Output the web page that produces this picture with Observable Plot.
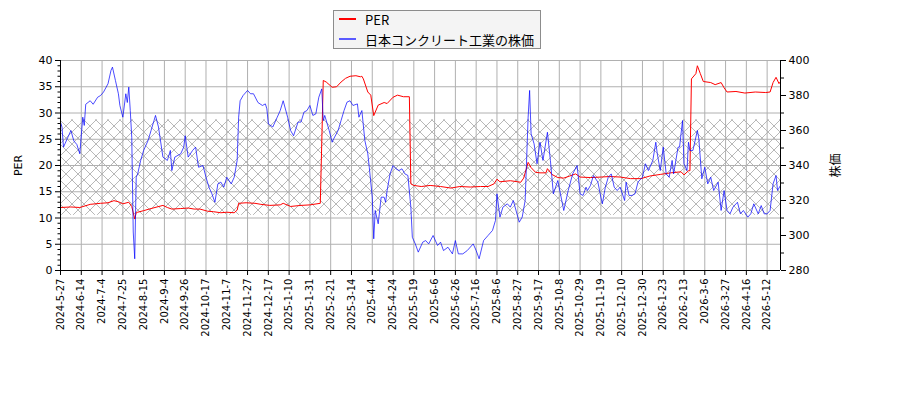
<!DOCTYPE html>
<html><head><meta charset="utf-8">
<script src="https://cdn.jsdelivr.net/npm/d3@7"></script>
<script src="https://cdn.jsdelivr.net/npm/@observablehq/plot@0.6"></script>
<style>
body{margin:0;background:#fff;}
#wrap{position:relative;width:900px;height:400px;}
#legend{position:absolute;left:333px;top:10px;width:206px;height:37px;background:#f4f4f4;border:1px solid #8c8c8c;font-family:"Noto Sans CJK JP","DejaVu Sans",sans-serif;font-size:13px;color:#000;}
.item{position:absolute;left:5px;height:16px;display:flex;align-items:center;white-space:nowrap;}
.swatch{display:inline-block;width:17px;height:1.6px;margin-right:9px;}
</style></head><body>
<div id="wrap"><div id="chart"></div>
<div id="legend">
<div class="item" style="top:0px"><span class="swatch" style="background:#ff0000"></span><span>PER</span></div>
<div class="item" style="top:20px"><span class="swatch" style="background:#5a5aff"></span><span>日本コンクリート工業の株価</span></div>
</div></div>
<script>
const tickLabels = ["2024-5-27","2024-6-14","2024-7-4","2024-7-25","2024-8-15","2024-9-4","2024-9-26","2024-10-17","2024-11-7","2024-11-27","2024-12-17","2025-1-10","2025-1-31","2025-2-21","2025-3-14","2025-4-4","2025-4-24","2025-5-19","2025-6-6","2025-6-26","2025-7-16","2025-8-6","2025-8-27","2025-9-17","2025-10-8","2025-10-29","2025-11-19","2025-12-10","2025-12-30","2026-1-23","2026-2-13","2026-3-6","2026-3-27","2026-4-16","2026-5-12"];
const tickDays = [0,14,28,42,56,70,84,98,112,126,140,154,168,182,196,210,224,238,252,266,280,294,308,322,336,350,364,378,392,406,420,434,448,462,476];
const dayRange = [0, 485];

const leftTicks = [0,5,10,15,20,25,30,35,40];
const leftMinor = [1,2,3,4,6,7,8,9,11,12,13,14,16,17,18,19,21,22,23,24,26,27,28,29,31,32,33,34,36,37,38,39];
const priceTicks = [280,300,320,340,360,380,400];
const priceMinor = [290,310,330,350,370,390];

const bandLow = 10.5, bandHigh = 28.7;

const perDays = [0,7,13,20,27,32,36,39,42,46,48,50,51,52,56,61,65,69,72,75,81,86,90,94,99,103,108,112,117,119,120,125,131,135,141,148,150,155,162,168,175,177,179,183,186,189,192,195,199,202,203,204,207,209,211,214,218,220,224,227,231,235,236,238,243,249,256,263,269,276,283,288,292,294,296,303,308,310,312,315,317,320,323,327,328,331,335,339,343,347,350,357,364,370,377,384,391,397,404,411,418,420,423,424,425,428,429,431,433,438,441,445,447,449,455,461,468,475,478,480,482,484,485];
const perValues = [12.0,12.1,12.0,12.6,12.8,12.9,13.3,13.1,12.7,13.0,12.2,9.8,11.0,11.1,11.4,11.8,12.1,12.4,12.0,11.7,11.8,11.9,11.7,11.7,11.3,11.2,11.0,11.1,11.0,11.5,12.8,12.9,12.8,12.6,12.4,12.5,12.8,12.2,12.4,12.5,12.8,36.2,35.9,34.9,35.0,35.9,36.6,37.0,37.1,36.9,37.0,36.5,34.0,33.4,29.5,31.5,32.0,31.8,33.0,33.4,33.1,33.1,16.5,16.2,16.0,16.2,16.0,15.7,16.0,15.9,16.0,16.0,16.5,17.4,16.9,17.1,16.9,16.8,17.6,20.6,19.6,18.7,18.6,18.6,19.4,18.3,17.7,17.6,18.0,18.4,17.8,17.7,17.8,17.9,17.8,17.5,17.5,18.0,18.3,18.6,18.8,18.2,19.0,19.0,36.5,37.5,39.0,37.5,36.0,35.8,35.4,35.8,34.8,34.0,34.1,33.8,34.0,33.9,34.0,35.8,36.8,35.6,36.0];

const priceDays = [0,1,2,3,7,9,11,13,15,16,17,20,22,25,27,29,32,34,35,37,39,40,42,44,45,46,47,48,49,50,51,52,54,56,59,61,63,64,66,69,72,74,75,77,81,83,84,86,89,91,93,96,98,100,102,104,106,108,110,112,115,117,119,120,121,123,126,128,130,133,136,138,139,140,143,146,148,150,153,155,157,160,162,164,166,168,170,172,174,176,177,178,181,183,184,187,189,191,193,195,197,200,201,203,205,207,208,210,211,212,214,216,218,219,220,222,224,226,228,230,232,234,236,237,239,241,244,246,248,251,254,256,258,261,264,266,268,271,274,278,280,282,285,288,291,293,294,296,298,301,303,305,309,311,313,315,316,317,319,321,323,325,328,330,332,335,339,342,345,348,350,352,354,355,357,359,362,364,365,367,369,371,373,375,377,380,381,383,385,387,389,392,394,396,399,401,402,404,406,408,410,412,413,416,417,419,420,422,423,424,426,429,430,432,434,436,438,440,443,445,447,449,451,453,456,458,460,463,465,467,470,472,474,476,478,480,482,483,485];
const priceValues = [364.8,361.9,350.5,352.4,360,354,352,346.7,367.6,362.9,375,377,375,379,380,382,386.7,394.3,396.2,388.6,381,374.3,367.6,381,376,384.8,371.4,356,302,286.7,333.3,335.2,342.9,348.6,354.3,360,365.7,368.6,362,344.8,342.9,348.6,337.1,344.8,346.7,350.5,357,344.8,348.6,350.5,339,340,333.3,327.6,323.8,319,329.5,330.5,327.6,333.3,329.5,333.3,342.9,367.6,377,380,382.9,381,381,376,374.3,375.2,372.4,363.8,362,367.6,371.4,377,367.6,360,357,364.8,364.8,370.5,371.4,374.3,368.6,369.5,379,383.8,365.7,368.6,360,353.3,355.2,360,365.7,371.4,376.2,377,374.3,375.2,367.6,371.4,354.3,346.7,339,321.9,298.1,314.3,306.7,321.9,321.9,319,325.7,335.2,340,338.1,337.1,338.1,335.2,334.3,316.2,299,295.2,290.5,296.2,297.1,295.2,300,294.3,296.2,291.4,293.3,289.5,297.1,289.5,289.5,291.4,295.2,291.4,286.7,297.1,300,302.9,308.6,323.8,310.5,316.2,318.1,316.2,320,307.6,310.5,320,367.6,382.9,358.1,352.4,341,353.3,342.9,359,342.9,323.8,331.4,314.3,325.7,335.2,340,323.8,322.9,327.6,325.7,328.6,334.3,330.5,321.9,318.1,327.6,333.3,335.2,327.6,325.7,327.6,320,330.5,322.9,322.9,323.8,330.5,333.3,341,337.1,342.9,353.3,346.7,337.1,350.5,335.2,333.3,342.9,335.2,350.5,350.5,365.7,341,337.1,353.3,348.6,348.6,360,355.2,332.4,339,329.5,333.3,325.7,330.5,314.3,325.7,314.3,312.4,316.2,319,312.4,314.3,310.5,312.4,318.1,312.4,317.1,312.4,312.4,314.3,329.5,334.3,325.7,328.6];

// right-axis price mapped onto left PER scale (280..400 <-> 0..40)
const priceToLeft = p => (p - 280) / 3;
const leftToPrice = v => Math.round(v * 3 + 280);

const perData = perDays.map((d, i) => ({day: d, value: perValues[i]}));
const priceData = priceDays.map((d, i) => ({day: d, value: priceValues[i]}));
const dayLabel = new Map(tickDays.map((d, i) => [d, tickLabels[i]]));

const chart = Plot.plot({
  width: 900, height: 400,
  marginLeft: 60, marginRight: 120, marginTop: 60, marginBottom: 130,
  style: {fontFamily: "DejaVu Sans, sans-serif", fontSize: "10px", color: "#000", background: "#fff", overflow: "visible"},
  x: {domain: dayRange},
  y: {domain: [0, 40]},
  marks: [
    Plot.rect([{lo: bandLow, hi: bandHigh}], {x1: () => dayRange[0], x2: () => dayRange[1], y1: "lo", y2: "hi", fill: "url(#hatch)"}),
    Plot.gridX(tickDays, {stroke: "#b0b0b0", strokeOpacity: 1, strokeWidth: 1}),
    Plot.gridY(leftTicks, {stroke: "#b0b0b0", strokeOpacity: 1, strokeWidth: 1}),
    Plot.line(perData, {x: "day", y: "value", stroke: "#ff0000", strokeWidth: 1}),
    Plot.line(priceData, {x: "day", y: d => priceToLeft(d.value), stroke: "#0000ff", strokeOpacity: 0.7, strokeWidth: 1}),
    Plot.ruleX(dayRange, {stroke: "#000", strokeWidth: 1}),
    Plot.ruleY([0], {stroke: "#000", strokeWidth: 1}),
    Plot.axisX(tickDays, {tickSize: 5, tickPadding: 3, tickRotate: -90, tickFormat: d => dayLabel.get(d), label: null, fontSize: 10}),
    Plot.axisY(leftTicks, {tickSize: 5, tickPadding: 3, label: null, fontSize: 11}),
    Plot.axisY(leftMinor, {tickSize: 2.5, tickFormat: () => "", label: null}),
    Plot.axisY(priceTicks.map(priceToLeft), {anchor: "right", tickSize: 5, tickPadding: 3, tickFormat: leftToPrice, label: null, fontSize: 11}),
    Plot.axisY(priceMinor.map(priceToLeft), {anchor: "right", tickSize: 3, tickFormat: () => "", label: null}),
    Plot.text(["PER"], {text: d => d, frameAnchor: "left", dx: -42, rotate: -90, textAnchor: "middle", fontSize: 11}),
    Plot.text(["株価"], {text: d => d, frameAnchor: "right", dx: 56, rotate: -90, textAnchor: "middle", fontSize: 12, fontFamily: "Noto Sans CJK JP"})
  ]
});

const defs = d3.select(chart).insert("defs", ":first-child");
const pat = defs.append("pattern").attr("id", "hatch").attr("patternUnits", "userSpaceOnUse")
  .attr("width", 12).attr("height", 12);
pat.append("path").attr("d", "M-2,-2L14,14M14,-2L-2,14")
  .attr("stroke", "#9a9a9a").attr("stroke-width", 0.7).attr("fill", "none");

document.getElementById("chart").appendChild(chart);
</script>
</body></html>
